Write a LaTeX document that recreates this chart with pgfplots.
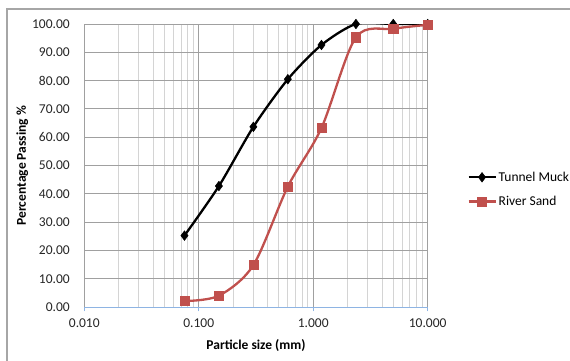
\documentclass[border=0pt]{standalone}
\usepackage{fontspec}
\setmainfont{Carlito}
\usepackage{pgfplots}
\pgfplotsset{compat=1.18}
\definecolor{rs}{HTML}{C0504D}
\definecolor{majg}{HTML}{A0A0A0}
\definecolor{ming}{HTML}{D4D4D4}
\definecolor{axb}{HTML}{8EB4E3}
\begin{document}
\fontsize{13}{15}\selectfont
\begin{tikzpicture}[x=1pt,y=1pt]
\path[use as bounding box] (0,0) rectangle (570,-361);
\draw[gray!70, line width=1.5pt] (7,-9) rectangle (590,-380);
\begin{axis}[
  at={(84.3pt,-307.3pt)}, anchor=south west,
  scale only axis, width=343.4pt, height=283.3pt,
  xmode=log, log basis x=10,
  xmin=0.01, xmax=10, ymin=0, ymax=100,
  xtick={0.01,0.1,1,10}, xticklabels={0.010,0.100,1.000,10.000},
  minor xtick={0.02,0.03,0.04,0.05,0.06,0.07,0.08,0.09,0.2,0.3,0.4,0.5,0.6,0.7,0.8,0.9,2,3,4,5,6,7,8,9},
  ytick={0,10,...,100},
  /pgf/number format/assume math mode=true,
  yticklabel style={/pgf/number format/fixed,/pgf/number format/fixed zerofill,/pgf/number format/precision=2},
  tick label style={font=\fontsize{13.5}{15}\selectfont, text=black!85},
  xmajorgrids, xminorgrids, ymajorgrids,
  major grid style={majg, line width=1pt},
  minor grid style={ming, line width=1pt},
  axis x line*=bottom, axis y line*=left,
  x axis line style={axb, line width=1pt, -},
  y axis line style={draw=none},
  xtick style={axb, line width=0.8pt},
  ytick style={draw=none},
  minor tick length=0pt, major tick length=4pt, tick align=outside,
  xticklabel style={yshift=-3pt},
  yticklabel style={xshift=-6pt},
  xlabel={\textbf{Particle size (mm)}},
  ylabel={\textbf{Percentage Passing \%}},
  label style={font=\fontsize{13.5}{15}\selectfont},
  xlabel style={yshift=-3pt},
  ylabel style={yshift=-5pt},
  legend style={at={(1.115,0.416)}, anchor=west, draw=none, fill=none,
    font=\fontsize{13.5}{15}\selectfont, row sep=9pt, inner sep=0pt},
  legend cell align=left,
  legend image code/.code={\draw[mark repeat=2,mark phase=2] plot coordinates {(0pt,0pt) (13.5pt,0pt) (27pt,0pt)};},
]
\addplot[black, line width=2.3pt, smooth, tension=0.45, mark=diamond*, mark size=4.8pt, mark options={solid, line width=0.5pt}]
  coordinates {(0.075,25.3) (0.15,42.8) (0.3,63.7) (0.6,80.5) (1.18,92.6) (2.36,100) (5,100) (10,100)};
\addlegendentry{Tunnel Muck}
\addplot[rs, line width=2.3pt, smooth, tension=0.5, mark=square*, mark size=4.6pt, mark options={solid, line width=0.5pt}]
  coordinates {(0.075,2.2) (0.15,4.1) (0.3,14.9) (0.6,42.6) (1.18,63.3) (2.36,95.3) (5,98.3) (10,99.7)};
\addlegendentry{River Sand}
\end{axis}
\end{tikzpicture}
\end{document}
